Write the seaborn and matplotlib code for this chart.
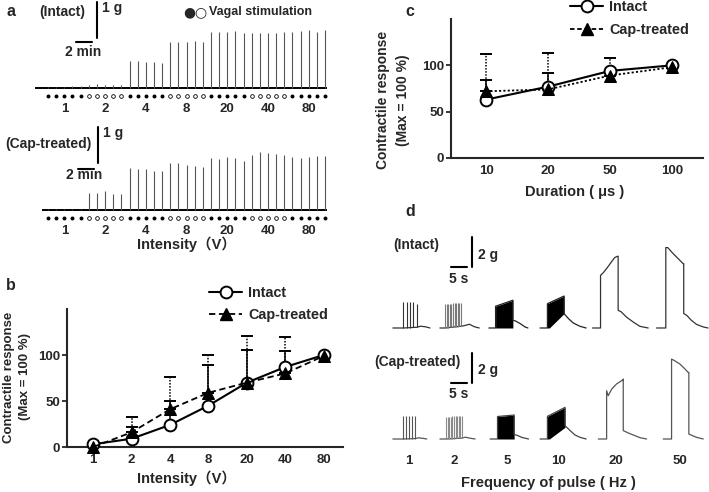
import numpy as np
import pandas as pd
import matplotlib
matplotlib.use("Agg")
import matplotlib.pyplot as plt
from matplotlib.lines import Line2D
import seaborn as sns

W, H = 709, 492

# ---------------- panel a: twitch amplitude (g), 5 pulses per intensity
intensity_labels = ["1", "2", "4", "8", "20", "40", "80"]
a_intact_g = [
    [0.03, 0.04, 0.03, 0.05, 0.06],
    [0.08, 0.10, 0.08, 0.07, 0.09],
    [0.74, 0.74, 0.72, 0.71, 0.69],
    [1.29, 1.29, 1.27, 1.31, 1.27],
    [1.56, 1.56, 1.56, 1.57, 1.54],
    [1.54, 1.54, 1.52, 1.53, 1.55],
    [1.55, 1.57, 1.61, 1.56, 1.62],
]
a_cap_g = [
    [0.02, 0.03, 0.02, 0.03, 0.03],
    [0.46, 0.46, 0.52, 0.45, 0.44],
    [1.16, 1.13, 1.13, 1.09, 1.09],
    [1.30, 1.31, 1.25, 1.23, 1.20],
    [1.44, 1.41, 1.46, 1.44, 1.37],
    [1.53, 1.60, 1.58, 1.55, 1.53],
    [1.46, 1.45, 1.46, 1.50, 1.50],
]

# ---------------- panel b: intensity-response (mean, upper SD)
b_intact = [3, 9, 24, 45, 70, 87, 100]
b_intact_err = [0, 13, 26, 44, 35, 17, 0]
b_cap = [0, 16, 41, 59, 70, 80, 99]
b_cap_err = [0, 17, 35, 41, 51, 40, 0]

# ---------------- panel c: duration-response
duration_labels = ["10", "20", "50", "100"]
c_intact = [63, 77, 94, 100]
c_intact_err = [21, 15, 0, 0]
c_cap = [72, 74, 89, 98]
c_cap_err = [40, 39, 19, 0]

# ---------------- panel d: tension traces (time s from sweep start, tension g)
freq_labels = ["1", "2", "5", "10", "20", "50"]

# intact
d_i1_base_t = [0, 3.3, 7.6, 8.6, 10.2, 11.6]
d_i1_base_g = [0, 0, 0.05, 0.12, 0.08, 0]
d_i1_spk_t = [3.3, 4.3, 5.3, 6.3, 7.6]
d_i1_spk_g = [1.70, 1.70, 1.70, 1.70, 1.62]
d_i2_base_t = [0, 1.6, 6.6, 7.5, 9.2, 10.8, 12.3]
d_i2_base_g = [0, 0, 0.12, 0.15, 0.25, 0.08, 0]
d_i2_spk_t = [1.6, 2.1, 2.6, 3.1, 3.6, 4.1, 4.6, 5.1, 5.6, 6.1, 6.6]
d_i2_spk_g = [1.60, 1.62, 1.62, 1.63, 1.63, 1.64, 1.64, 1.65, 1.65, 1.66, 1.66]
d_i5_t = [0, 2.1, 2.1, 7.5, 7.5, 8.3, 9.8, 11.3, 12.2]
d_i5_g = [0, 0, 1.45, 1.85, 0.51, 0.47, 0.29, 0.07, 0]
d_i5_fill_t = [2.1, 7.5]
d_i5_fill_top = [1.45, 1.85]
d_i5_fill_bot = [0, 0]
d_i10_t = [0, 2.3, 2.3, 7.5, 7.5, 8.9, 10.4, 12.5, 14.4]
d_i10_g = [0, 0, 1.62, 2.13, 0.96, 0.62, 0.33, 0.11, 0]
d_i10_fill_t = [2.3, 2.9, 7.5]
d_i10_fill_top = [1.62, 1.68, 2.13]
d_i10_fill_bot = [0, 0, 0.96]
d_i20_t = [0, 2.5, 2.5, 3.3, 4.4, 5.9, 6.9, 7.8, 8.0, 8.0, 9.0, 10.6, 12.7, 14.8, 17.4]
d_i20_g = [0, 0, 3.51, 3.67, 3.96, 4.40, 4.69, 4.78, 4.78, 1.18, 1.07, 0.73, 0.40, 0.11, 0]
d_i50_t = [0, 2.9, 2.9, 3.5, 4.7, 6.25, 7.8, 8.3, 8.5, 8.5, 9.4, 10.9, 12.5, 14.6, 16.1]
d_i50_g = [0, 0, 5.36, 5.36, 5.07, 4.73, 4.40, 4.29, 4.29, 0.96, 0.85, 0.51, 0.24, 0.07, 0]

# capsaicin-treated
d_c1_base_t = [0, 3.3, 7.0, 8.0, 9.5, 10.6]
d_c1_base_g = [0, 0, 0.03, 0.08, 0.04, 0]
d_c1_spk_t = [3.3, 4.2, 5.1, 6.0, 7.0]
d_c1_spk_g = [1.56, 1.56, 1.56, 1.56, 1.54]
d_c2_base_t = [0, 1.9, 6.9, 8.0, 9.5, 11.0]
d_c2_base_g = [0, 0, 0.06, 0.12, 0.05, 0]
d_c2_spk_t = [1.9, 2.4, 2.9, 3.4, 3.9, 4.4, 4.9, 5.4, 5.9, 6.4, 6.9]
d_c2_spk_g = [1.48, 1.49, 1.50, 1.50, 1.51, 1.52, 1.52, 1.53, 1.54, 1.54, 1.55]
d_c5_t = [0, 2.3, 2.3, 7.5, 7.5, 8.5, 10.0, 12.0]
d_c5_g = [0, 0, 1.50, 1.60, 0.30, 0.24, 0.10, 0]
d_c5_fill_t = [2.3, 7.5]
d_c5_fill_top = [1.50, 1.60]
d_c5_fill_bot = [0, 0]
d_c10_t = [0, 2.3, 2.3, 7.8, 7.8, 9.4, 10.9, 12.5, 14.4]
d_c10_g = [0, 0, 1.51, 2.11, 0.89, 0.56, 0.27, 0.11, 0]
d_c10_fill_t = [2.3, 2.9, 7.8]
d_c10_fill_top = [1.51, 1.58, 2.11]
d_c10_fill_bot = [0, 0, 0.78]
d_c20_t = [0, 2.6, 2.6, 3.1, 4.2, 5.7, 7.6, 7.8, 7.8, 9.4, 10.9, 13.0, 15.1]
d_c20_g = [0, 0, 3.22, 2.89, 3.33, 3.67, 3.93, 4.00, 0.56, 0.40, 0.27, 0.09, 0]
d_c50_t = [0, 2.6, 2.6, 3.6, 5.2, 6.8, 7.8, 8.0, 8.0, 10.4, 12.5]
d_c50_g = [0, 0, 5.33, 5.22, 5.00, 4.67, 4.44, 4.44, 0.33, 0.11, 0]

sns.set_style("ticks")
plt.rcParams["font.family"] = ["Liberation Sans", "Noto Sans CJK JP", "DejaVu Sans"]
plt.rcParams["font.weight"] = "bold"
plt.rcParams["axes.labelweight"] = "bold"

fig = plt.figure(figsize=(W / 100, H / 100), dpi=100)


def fx(x):
    return x / W


def fy(y):
    return 1 - y / H


def add_ax(l, t, r, b):
    return fig.add_axes([fx(l), fy(b), (r - l) / W, (b - t) / H])


def ftext(x, y, s, size=10, ha="center", rot=0, **kw):
    fig.text(fx(x), fy(y), s, fontsize=size, ha=ha, va="center",
             fontweight="bold", rotation=rot, **kw)


def bare(ax):
    for sp in ax.spines.values():
        sp.set_visible(False)
    ax.patch.set_alpha(0)
    ax.tick_params(left=False, labelleft=False)


# ---------------- panel a
def twitch_row(ax, amps, x0, ylim):
    idx = np.arange(len(intensity_labels) * 5)
    heights = np.concatenate(amps)
    ax.plot([x0, 34.2], [0, 0], color="black", lw=1.4, solid_capstyle="butt")
    ax.vlines(idx, 0, heights, color="#555555", lw=0.8)
    filled = np.repeat(np.arange(len(intensity_labels)) % 2 == 0, 5)
    ax.scatter(idx[filled], np.full(filled.sum(), -0.22), s=8, color="black", lw=0)
    ax.scatter(idx[~filled], np.full((~filled).sum(), -0.22), s=7,
               facecolor="white", edgecolor="black", lw=0.6)
    ax.set_xlim(-1.6, 34.36)
    ax.set_ylim(*ylim)
    ax.set_xticks(np.arange(len(intensity_labels)) * 5 + 2, intensity_labels)
    ax.tick_params(axis="x", length=0, pad=2.5, labelsize=9.5)
    bare(ax)


ax_a1 = add_ax(35, 0, 328, 100)
twitch_row(ax_a1, a_intact_g, -1.6, (-0.333, 2.444))
ax_a1.plot([6.0, 6.0], [1.39, 2.39], color="black", lw=1.5)
ax_a1.plot([3.44, 5.44], [1.28, 1.28], color="black", lw=1.5)

ax_a2 = add_ax(35, 112, 328, 222)
twitch_row(ax_a2, a_cap_g, -0.74, (-0.333, 2.72))
ax_a2.plot([6.13, 6.13], [1.31, 2.31], color="black", lw=1.5)
ax_a2.plot([3.68, 5.68], [1.14, 1.14], color="black", lw=1.5)

ftext(11, 11, "a", size=11.5)
ftext(62, 12, "(Intact)")
ftext(102, 8, "1 g", ha="left")
ftext(83, 52, "2 min")
ftext(189, 12, "\u25CF", size=10, family="DejaVu Sans")
ftext(200, 12, "\u25CB", size=10, family="DejaVu Sans")
ftext(209, 12, "Vagal stimulation", size=9, ha="left")
ftext(48, 144, "(Cap-treated)")
ftext(103, 133, "1 g", ha="left")
ftext(84, 175, "2 min")
ftext(187, 244, "Intensity\uFF08V\uFF09", size=10.5)


# ---------------- panels b, c
def response_panel(ax, y1, e1, y2, e2, cap_ls):
    x = np.arange(len(y1))
    e1 = np.asarray(e1)
    e2 = np.asarray(e2)
    m1, m2 = e1 > 0, e2 > 0
    ax.errorbar(x[m1], np.asarray(y1)[m1], yerr=[np.zeros(m1.sum()), e1[m1]],
                fmt="none", ecolor="black", elinewidth=1.1, capsize=4,
                capthick=1.4, zorder=2)
    eb = ax.errorbar(x[m2], np.asarray(y2)[m2], yerr=[np.zeros(m2.sum()), e2[m2]],
                     fmt="none", ecolor="black", elinewidth=1.1, capsize=4,
                     capthick=1.4, zorder=2)
    eb.lines[2][0].set_linestyle((0, (1, 1)))
    sns.lineplot(data=pd.DataFrame({"x": x, "y": y1}), x="x", y="y", ax=ax,
                 color="black", linewidth=1.5, marker="o", markersize=8.5,
                 markerfacecolor="white", markeredgecolor="black",
                 markeredgewidth=1.4, zorder=3, clip_on=False)
    sns.lineplot(data=pd.DataFrame({"x": x, "y": y2}), x="x", y="y", ax=ax,
                 color="black", linewidth=1.3, linestyle=cap_ls, marker="^",
                 markersize=8.5, markeredgecolor="black", zorder=4, clip_on=False)
    ax.set_xlabel("")
    ax.set_ylabel("")
    ax.set_ylim(0, 150)
    ax.set_yticks([0, 50, 100])
    sns.despine(ax=ax)
    for sp in ("left", "bottom"):
        ax.spines[sp].set_linewidth(1.5)
    ax.patch.set_alpha(0)
    ax.tick_params(axis="y", length=3.5, width=1.3, pad=1.5, labelsize=9.5)
    ax.tick_params(axis="x", length=0, labelsize=9.5)


def response_legend(ax, x, y, cap_ls, spacing):
    handles = [
        Line2D([], [], color="black", lw=1.5, marker="o", ms=8.5,
               mfc="white", mec="black", mew=1.4),
        Line2D([], [], color="black", lw=1.3, ls=cap_ls, marker="^", ms=8.5),
    ]
    ax.legend(handles, ["Intact", "Cap-treated"], loc="upper left",
              bbox_to_anchor=(fx(x), fy(y)), bbox_transform=fig.transFigure,
              frameon=False, handlelength=2.3, handletextpad=0.4,
              labelspacing=spacing, borderpad=0, borderaxespad=0,
              prop={"size": 10.4, "weight": "bold"})


ax_b = add_ax(67, 309, 343, 447)
response_panel(ax_b, b_intact, b_intact_err, b_cap, b_cap_err, (0, (3.5, 2)))
ax_b.set_xlim(-0.68, 6.5)
ax_b.set_xticks(np.arange(len(intensity_labels)), intensity_labels)
ax_b.tick_params(axis="x", pad=5)
response_legend(ax_b, 209, 286, (0, (3.5, 2)), 0.55)
ftext(11, 285, "b", size=11.5)
ftext(17, 377, "Contractile response\n(Max = 100 %)", size=9.5, rot=90,
      linespacing=1.5, multialignment="center")
ftext(187, 478, "Intensity\uFF08V\uFF09", size=10.5)

ax_c = add_ax(451, 19, 703, 158)
response_panel(ax_c, c_intact, c_intact_err, c_cap, c_cap_err, (0, (1.2, 1.2)))
ax_c.set_xlim(-0.565, 3.5)
ax_c.set_xticks(np.arange(len(duration_labels)), duration_labels)
ax_c.tick_params(axis="x", pad=5)
response_legend(ax_c, 570, 0, (0, (2.5, 1.5)), 0.65)
ftext(410, 12, "c", size=11.5)
ftext(393, 100, "Contractile response\n(Max = 100 %)", size=10, rot=90,
      linespacing=1.5, multialignment="center")
ftext(575, 192, "Duration ( \u03bcs )", size=10.5)


# ---------------- panel d
def train(ax, t0, base_t, base_g, spk_t, spk_g, col_base, col_spk):
    bt = np.asarray(base_t) + t0
    st = np.asarray(spk_t) + t0
    ax.plot(bt, base_g, color=col_base, lw=0.9)
    ax.vlines(st, np.interp(st, bt, base_g), spk_g, color=col_spk, lw=0.8)


def fused(ax, t0, t, g, ft, ftop, fbot, col):
    ax.fill_between(np.asarray(ft) + t0, fbot, ftop, color="black", lw=0)
    ax.plot(np.asarray(t) + t0, g, color=col, lw=0.9)


def smooth(ax, t0, t, g, col):
    ax.plot(np.asarray(t) + t0, g, color=col, lw=0.9)


intact_start = [0.9, 15.6, 30.9, 46.9, 63.3, 83.3]
cap_start = [0.9, 15.6, 31.3, 46.9, 65.1, 85.4]
freq_pos = [5.9, 20.0, 36.6, 52.8, 70.6, 90.6]

ax_d1 = add_ax(390, 230, 709, 335)
train(ax_d1, intact_start[0], d_i1_base_t, d_i1_base_g, d_i1_spk_t, d_i1_spk_g, "#333333", "#333333")
train(ax_d1, intact_start[1], d_i2_base_t, d_i2_base_g, d_i2_spk_t, d_i2_spk_g, "#333333", "#7a7a7a")
fused(ax_d1, intact_start[2], d_i5_t, d_i5_g, d_i5_fill_t, d_i5_fill_top, d_i5_fill_bot, "#222222")
fused(ax_d1, intact_start[3], d_i10_t, d_i10_g, d_i10_fill_t, d_i10_fill_top, d_i10_fill_bot, "#222222")
smooth(ax_d1, intact_start[4], d_i20_t, d_i20_g, "#333333")
smooth(ax_d1, intact_start[5], d_i50_t, d_i50_g, "#333333")
ax_d1.set_xlim(0, 99.7)
ax_d1.set_ylim(-0.467, 6.53)
ax_d1.plot([25.6, 25.6], [4.07, 6.07], color="black", lw=1.5)
ax_d1.plot([19.06, 24.06], [4.07, 4.07], color="black", lw=1.5)
ax_d1.set_xticks([])
bare(ax_d1)

ax_d2 = add_ax(390, 345, 709, 446)
train(ax_d2, cap_start[0], d_c1_base_t, d_c1_base_g, d_c1_spk_t, d_c1_spk_g, "#555555", "#555555")
train(ax_d2, cap_start[1], d_c2_base_t, d_c2_base_g, d_c2_spk_t, d_c2_spk_g, "#555555", "#8a8a8a")
fused(ax_d2, cap_start[2], d_c5_t, d_c5_g, d_c5_fill_t, d_c5_fill_top, d_c5_fill_bot, "#444444")
fused(ax_d2, cap_start[3], d_c10_t, d_c10_g, d_c10_fill_t, d_c10_fill_top, d_c10_fill_bot, "#444444")
smooth(ax_d2, cap_start[4], d_c20_t, d_c20_g, "#555555")
smooth(ax_d2, cap_start[5], d_c50_t, d_c50_g, "#555555")
ax_d2.set_xlim(0, 99.7)
ax_d2.set_ylim(-0.467, 6.27)
ax_d2.plot([25.6, 25.6], [3.73, 5.73], color="black", lw=1.5)
ax_d2.plot([19.06, 24.06], [3.73, 3.73], color="black", lw=1.5)
ax_d2.set_xticks(freq_pos, freq_labels)
ax_d2.tick_params(axis="x", length=0, pad=6.5, labelsize=9.5)
bare(ax_d2)

ftext(410, 212, "d", size=11.5)
ftext(416, 245, "(Intact)")
ftext(478, 255, "2 g", ha="left")
ftext(459, 279, "5 s")
ftext(417, 362, "(Cap-treated)")
ftext(478, 370, "2 g", ha="left")
ftext(459, 394, "5 s")
ftext(548, 483, "Frequency of pulse ( Hz )", size=10.5)

fig.savefig("out.png", dpi=100)
